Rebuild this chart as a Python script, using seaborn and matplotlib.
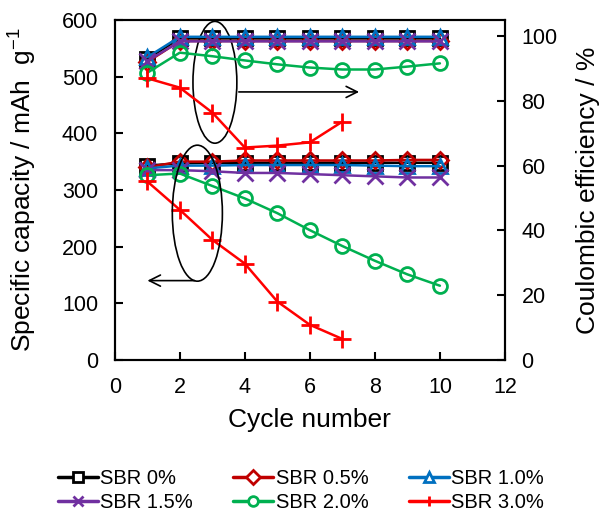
import numpy as np
import pandas as pd
import seaborn as sns
import matplotlib.pyplot as plt
from matplotlib.patches import Ellipse
from matplotlib.lines import Line2D

# Data
cycles = [1, 2, 3, 4, 5, 6, 7, 8, 9, 10]
labels = ["SBR 0%", "SBR 0.5%", "SBR 1.0%", "SBR 1.5%", "SBR 2.0%", "SBR 3.0%"]

cap_0 = [343, 347, 348, 348, 348, 348, 348, 348, 348, 348]
cap_05 = [340, 350, 350, 352, 352, 352, 352, 352, 353, 353]
cap_10 = [338, 343, 343, 344, 344, 344, 344, 343, 342, 342]
cap_15 = [335, 335, 333, 330, 330, 328, 326, 324, 322, 322]
cap_20 = [326, 329, 307, 285, 259, 229, 201, 175, 151, 131]
cap_30 = [315, 265, 212, 170, 103, 62, 37]

ce_0 = [93.0, 99.3, 99.3, 99.3, 99.3, 99.3, 99.3, 99.3, 99.3, 99.3]
ce_05 = [92.0, 98.5, 98.5, 98.5, 98.5, 98.5, 98.5, 98.5, 98.5, 98.5]
ce_10 = [93.5, 99.8, 99.8, 99.8, 99.8, 99.8, 99.8, 99.8, 99.8, 99.8]
ce_15 = [92.3, 98.4, 98.4, 98.4, 98.4, 98.4, 98.4, 98.4, 98.4, 98.4]
ce_20 = [88.7, 94.9, 93.8, 92.5, 91.3, 90.3, 89.7, 89.7, 90.6, 91.6]
ce_30 = [87.0, 84.1, 76.4, 65.6, 66.2, 67.2, 73.6]

capacities = [cap_0, cap_05, cap_10, cap_15, cap_20, cap_30]
efficiencies = [ce_0, ce_05, ce_10, ce_15, ce_20, ce_30]

colors = ["#000000", "#C00000", "#0070C0", "#7030A0", "#00B050", "#FF0000"]
markers = ["s", "D", "^", "x", "o", "+"]
msizes = [10, 8, 10, 11, 10, 13]

sns.set_style("ticks")
plt.rcParams['font.family'] = ['Liberation Sans', 'DejaVu Sans']
plt.rcParams.update({"text.color": "black", "axes.labelcolor": "black",
                     "xtick.color": "black", "ytick.color": "black"})

fig = plt.figure(figsize=(6.04, 5.12), dpi=100)
ax = fig.add_axes([0.19, 0.297, 0.646, 0.664])
ax2 = ax.twinx()


def draw(axis, values, col, mk, ms):
    n = len(values)
    df = pd.DataFrame({"cycle": cycles[:n], "value": values})
    sns.lineplot(data=df, x="cycle", y="value", ax=axis, color=col, lw=1.8,
                 marker=mk, markersize=ms,
                 markerfacecolor="none" if mk not in ("x", "+") else col,
                 markeredgecolor=col, markeredgewidth=2.0, legend=False)


for vals, col, mk, ms in zip(capacities, colors, markers, msizes):
    draw(ax, vals, col, mk, ms)
for vals, col, mk, ms in zip(efficiencies, colors, markers, msizes):
    draw(ax2, vals, col, mk, ms)

ax.set_xlim(0, 12)
ax.set_ylim(0, 600)
ax2.set_ylim(0, 105)
ax.set_xticks(range(0, 13, 2))
ax.set_yticks(range(0, 601, 100))
ax2.set_yticks(range(0, 101, 20))

ax.set_xlabel("Cycle number", fontsize=19)
ax.set_ylabel("Specific capacity / mAh  g$^{\\mathregular{-1}}$", fontsize=19)
ax2.set_ylabel("Coulombic efficiency / %", fontsize=19)
ax.xaxis.set_label_coords(0.5, -0.14)
ax.yaxis.set_label_coords(-0.197, 0.5)
ax2.yaxis.set_label_coords(1.183, 0.5)

for a in (ax, ax2):
    a.tick_params(direction="in", length=6, width=1.5, labelsize=15.5, pad=12,
                  colors="black")
    for sp in a.spines.values():
        sp.set_linewidth(1.5)
        sp.set_color("black")
        sp.set_visible(True)

# Ellipses and arrows marking which axis each group belongs to
ax.add_patch(Ellipse((3.08, 490), 1.35, 215, fill=False, ec="black", lw=1.2, zorder=5))
ax.annotate("", xy=(7.6, 473), xytext=(3.73, 473),
            arrowprops=dict(arrowstyle="->", color="black", lw=1.2, mutation_scale=20))
ax.add_patch(Ellipse((2.54, 259), 1.54, 240, fill=False, ec="black", lw=1.2, zorder=5))
ax.annotate("", xy=(0.92, 140), xytext=(2.54, 140),
            arrowprops=dict(arrowstyle="->", color="black", lw=1.2, mutation_scale=20))

# Legend below the plot, filled row by row
handles = [Line2D([0], [0], color=c, lw=2.5, marker=m, markersize=7,
                  markerfacecolor="white" if m not in ("x", "+") else c,
                  markeredgecolor=c, markeredgewidth=2)
           for c, m in zip(colors, markers)]
order = [0, 3, 1, 4, 2, 5]
fig.legend([handles[i] for i in order], [labels[i] for i in order],
           loc="center", bbox_to_anchor=(0.498, 0.042), ncol=3,
           frameon=False, fontsize=14.5, handlelength=2.0, handletextpad=0.1,
           columnspacing=2.0, labelspacing=0.25, borderpad=0)

fig.savefig("out.png", dpi=100)
